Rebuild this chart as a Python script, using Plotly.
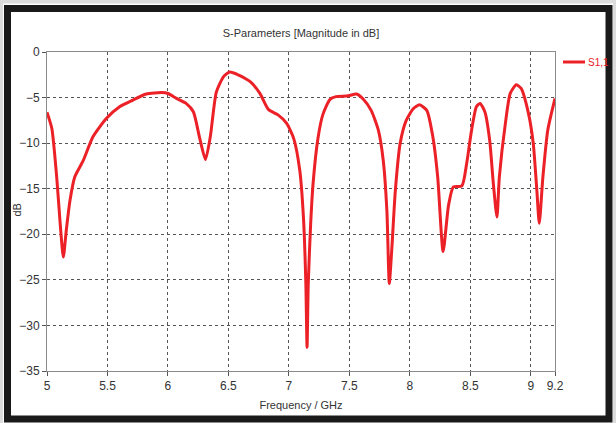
import plotly.graph_objects as go

freq_ghz = [5.00, 5.04, 5.08, 5.11, 5.135, 5.16, 5.19, 5.23, 5.30, 5.38, 5.49, 5.60, 5.71, 5.82, 5.95, 6.00,
            6.07, 6.15, 6.21, 6.26, 6.31, 6.35, 6.40, 6.46, 6.51, 6.58, 6.68, 6.76, 6.83, 6.91, 6.98,
            7.04, 7.09, 7.12, 7.14, 7.15, 7.16, 7.18, 7.20, 7.24, 7.28, 7.34, 7.39, 7.48, 7.56, 7.61,
            7.68, 7.74, 7.78, 7.81, 7.83, 7.85, 7.88, 7.92, 7.97, 8.03, 8.08, 8.14, 8.19, 8.23, 8.275,
            8.32, 8.36, 8.43, 8.47, 8.51, 8.55, 8.58, 8.62, 8.66, 8.69, 8.72, 8.74, 8.79, 8.83, 8.88,
            8.92, 8.98, 9.02, 9.05, 9.07, 9.10, 9.14, 9.20]
s11_db = [-6.6, -8.4, -13.7, -19.0, -22.5, -19.5, -16.3, -13.7, -11.9, -9.3, -7.3, -6.0, -5.27, -4.6, -4.45, -4.55,
          -5.09, -5.64, -6.56, -9.3, -11.8, -9.3, -4.4, -2.7, -2.2, -2.5, -3.26, -4.54, -6.3, -6.9, -7.8,
          -9.5, -13.0, -18.1, -25.4, -32.4, -25.4, -18.8, -14.4, -9.5, -6.9, -5.2, -4.9, -4.84, -4.6, -5.1,
          -6.4, -8.6, -11.9, -17.4, -25.4, -21.8, -15.2, -10.0, -7.5, -6.2, -5.8, -6.4, -9.3, -13.7, -21.9,
          -16.8, -14.8, -14.7, -12.2, -8.6, -6.0, -5.64, -6.56, -9.7, -14.4, -18.1, -13.7, -7.8, -4.54, -3.6,
          -4.0, -6.7, -10.0, -15.2, -18.8, -13.7, -8.6, -5.1]

series_name = "S1,1"
x_ticks = [5, 5.5, 6, 6.5, 7, 7.5, 8, 8.5, 9, 9.2]
x_tick_labels = ["5", "5.5", "6", "6.5", "7", "7.5", "8", "8.5", "9", "9.2"]
y_ticks = [0, -5, -10, -15, -20, -25, -30, -35]

FONT = "Liberation Sans Narrow, Liberation Sans, Arial, sans-serif"
RED = "#ec2027"
TXT = "#333333"

fig = go.Figure()
fig.add_trace(go.Scatter(x=freq_ghz, y=s11_db, mode="lines", name=series_name, showlegend=False,
                         line=dict(color=RED, width=3, shape="spline", smoothing=0.6)))

W, H = 616, 423
L, R, T, B = 47, 61, 52, 52
pw, ph = W - L - R, H - T - B

def px_to_paper_x(px):
    return (px - L) / pw

def py_to_paper_y(py):
    return (H - B - py) / ph

shapes = [
    dict(type="rect", xref="paper", yref="paper",
         x0=px_to_paper_x(1), x1=px_to_paper_x(615), y0=py_to_paper_y(426), y1=py_to_paper_y(1.5),
         line=dict(color="#dcdcdc", width=4), fillcolor="rgba(0,0,0,0)", layer="below"),
    dict(type="rect", xref="paper", yref="paper",
         x0=px_to_paper_x(7.5), x1=px_to_paper_x(609), y0=py_to_paper_y(419), y1=py_to_paper_y(8.5),
         line=dict(color="#1a1a1a", width=7), fillcolor="rgba(0,0,0,0)", layer="below"),
    # legend swatch
    dict(type="line", xref="paper", yref="paper",
         x0=px_to_paper_x(563), x1=px_to_paper_x(585), y0=py_to_paper_y(62), y1=py_to_paper_y(62),
         line=dict(color=RED, width=3)),
]

annotations = [
    dict(text=series_name, xref="paper", yref="paper", x=px_to_paper_x(586), y=py_to_paper_y(62),
         xanchor="left", yanchor="middle", showarrow=False, font=dict(family=FONT, size=10, color=RED)),
    dict(text="dB", xref="paper", yref="paper", x=px_to_paper_x(16.5), y=py_to_paper_y(210),
         xanchor="center", yanchor="middle", textangle=-90, showarrow=False,
         font=dict(family=FONT, size=11, color=TXT)),
]

axis_common = dict(showline=True, linecolor="#8a8a8a", linewidth=1, mirror=True,
                   showgrid=True, gridcolor="#555555", gridwidth=1, griddash="dot",
                   ticks="outside", ticklen=4, tickcolor="#555555", zeroline=False,
                   tickfont=dict(family=FONT, size=12, color=TXT))

fig.update_layout(
    width=W, height=H,
    margin=dict(l=L, r=R, t=T, b=B, pad=0, autoexpand=False),
    paper_bgcolor="white", plot_bgcolor="white",
    title=dict(text="S-Parameters [Magnitude in dB]", x=px_to_paper_x(301), xref="paper",
               y=1 - 33 / H, yref="container", xanchor="center", yanchor="middle",
               font=dict(family=FONT, size=11, color=TXT)),
    xaxis=dict(range=[5, 9.2], tickvals=x_ticks, ticktext=x_tick_labels,
               title=dict(text="Frequency / GHz", font=dict(family=FONT, size=11, color=TXT), standoff=8),
               **axis_common),
    yaxis=dict(range=[-35, 0], tickvals=y_ticks, **axis_common),
    showlegend=False,
    shapes=shapes,
    annotations=annotations,
)

fig.write_html("out.html", config={"displayModeBar": False},
               post_script="document.body.style.margin='0';document.body.style.overflow='hidden';")
